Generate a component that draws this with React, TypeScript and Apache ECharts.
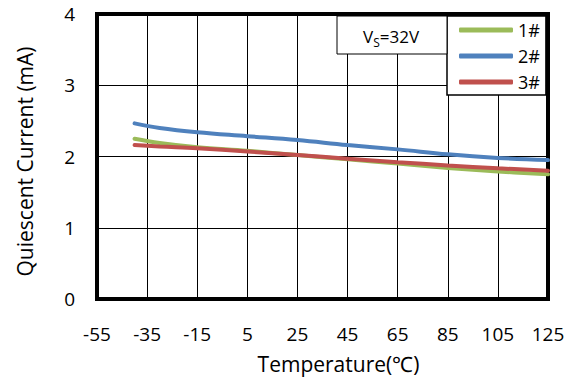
import React, { useEffect, useRef } from "react";
import * as echarts from "echarts";

const temps = [-40, -30, -15, 5, 25, 45, 65, 85, 105, 125];
const s1 = [2.25, 2.19, 2.13, 2.08, 2.02, 1.96, 1.9, 1.84, 1.79, 1.75];
const s2 = [2.465, 2.4, 2.34, 2.285, 2.23, 2.16, 2.1, 2.03, 1.98, 1.95];
const s3 = [2.16, 2.14, 2.115, 2.07, 2.02, 1.97, 1.92, 1.875, 1.835, 1.8];
const seriesNames = ["1#", "2#", "3#"];
const seriesColors = ["#9BBB59", "#4F81BD", "#C0504D"];

const FONT = "'Open Sans', sans-serif";

export default function App() {
  const ref = useRef<HTMLDivElement>(null);
  useEffect(() => {
    if (!ref.current) return;
    const chart = echarts.init(ref.current, null, { renderer: "svg" });
    const data = [s1, s2, s3];
    chart.setOption({
      animation: false,
      backgroundColor: "#fff",
      textStyle: { fontFamily: FONT },
      grid: {
        left: 97,
        right: 20,
        top: 14,
        bottom: 75,
        show: true,
        borderColor: "#000",
        borderWidth: 4,
        containLabel: false,
      },
      xAxis: {
        type: "value",
        min: -55,
        max: 125,
        interval: 20,
        name: "Temperature(℃)",
        nameLocation: "middle",
        nameGap: 54,
        nameTextStyle: { fontSize: 21, color: "#000", fontFamily: FONT, padding: [0, 0, 0, 32] },
        axisLine: { show: false },
        axisTick: { show: false },
        axisLabel: { fontSize: 19, color: "#000", margin: 25, fontFamily: FONT },
        splitLine: { show: true, lineStyle: { color: "#000", width: 1 } },
      },
      yAxis: {
        type: "value",
        min: 0,
        max: 4,
        interval: 1,
        name: "Quiescent Current (mA)",
        nameLocation: "middle",
        nameGap: 62,
        nameRotate: 90,
        nameTextStyle: { fontSize: 21, color: "#000", fontFamily: FONT, padding: [0, 10, 0, 0] },
        axisLine: { show: false },
        axisTick: { show: false },
        axisLabel: { fontSize: 19, color: "#000", margin: 22, fontFamily: FONT },
        splitLine: { show: true, lineStyle: { color: "#000", width: 1 } },
      },
      legend: {
        data: seriesNames,
        orient: "vertical",
        left: 447,
        top: 16,
        padding: [5, 6, 4, 12],
        itemGap: 8,
        itemWidth: 54,
        itemHeight: 5,
        icon: "roundRect",
        backgroundColor: "#fff",
        borderColor: "#000",
        borderWidth: 1.5,
        z: 10,
        textStyle: { fontSize: 18, color: "#000", lineHeight: 18, fontFamily: FONT },
      },
      graphic: [
        {
          type: "rect",
          z: 10,
          shape: { x: 337, y: 16, width: 110, height: 38 },
          style: { fill: "#fff", stroke: "#000", lineWidth: 1 },
        },
        {
          type: "text",
          z: 11,
          x: 391,
          y: 36,
          style: {
            text: "{a|V}{b|S}{a|=32V}",
            align: "center",
            verticalAlign: "middle",
            rich: {
              a: { fontSize: 17, fontFamily: FONT, fill: "#000", lineHeight: 24, verticalAlign: "middle" },
              b: { fontSize: 12, fontFamily: FONT, fill: "#000", lineHeight: 24, verticalAlign: "bottom" },
            },
          },
        },
      ],
      series: data.map((d, i) => ({
        name: seriesNames[i],
        type: "line",
        smooth: 0.4,
        showSymbol: false,
        symbol: "none",
        data: temps.map((t, j) => [t, d[j]]),
        lineStyle: { color: seriesColors[i], width: 4, cap: "round" },
        itemStyle: { color: seriesColors[i] },
        z: 3 + (i === 2 ? 1 : 0),
      })),
    });
    return () => chart.dispose();
  }, []);
  return <div ref={ref} style={{ width: 568, height: 379, position: "absolute", left: 0, top: 0 }} />;
}
